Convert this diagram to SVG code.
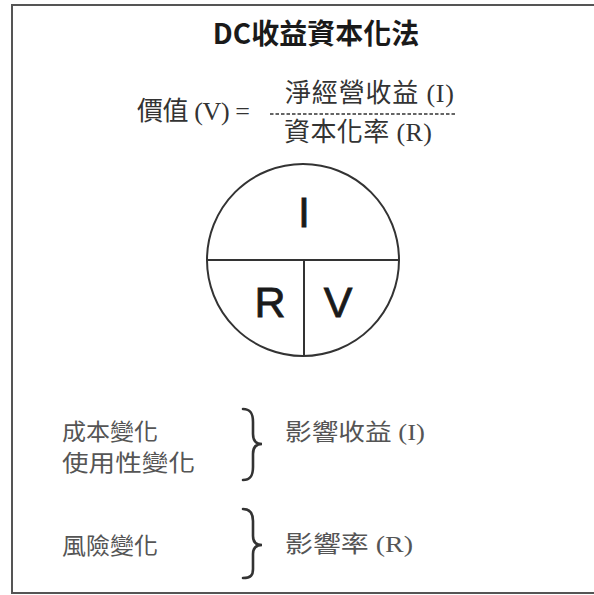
<svg xmlns="http://www.w3.org/2000/svg" width="594" height="595" viewBox="0 0 594 595">
<style>
.title{font-family:"Noto Sans CJK TC","Liberation Sans",sans-serif;font-weight:bold;font-size:28px;fill:#1a1a1a}
.f{font-family:"Liberation Serif","Noto Sans CJK TC",serif;font-size:26px;fill:#333}
.b{font-family:"Liberation Serif","Noto Sans CJK TC",serif;font-size:23px;fill:#555}
.big{font-family:"Liberation Sans",sans-serif;font-size:43px;fill:#1a1a1a;stroke:#1a1a1a;stroke-width:0.8;text-anchor:middle}
.ln{stroke:#333;stroke-width:2;fill:none}
.brace{stroke:#333;stroke-width:2.6;fill:none;stroke-linecap:round}
</style>
<rect x="12" y="5" width="600" height="588" fill="#fff" stroke="#555" stroke-width="2"/>
<g id="title"><text class="title" x="316" y="44" text-anchor="middle">DC收益資本化法</text></g>
<g id="formula">
<text class="f" x="137" y="120" font-size="25" textLength="113">價值 (V) =</text>
<text class="f" x="285" y="102" textLength="169">淨經營收益 (I)</text>
<line x1="270" y1="114" x2="456" y2="114" stroke="#333" stroke-width="1.6" stroke-dasharray="3.5,2"/>
<text class="f" x="284" y="141" textLength="148">資本化率 (R)</text>
</g>
<g id="circle">
<circle class="ln" cx="303" cy="260" r="96"/>
<line class="ln" x1="207" y1="260" x2="399" y2="260"/>
<line class="ln" x1="304" y1="260" x2="304" y2="356"/>
<text class="big" x="304" y="227">I</text>
<text class="big" x="270" y="317">R</text>
<text class="big" x="338" y="317">V</text>
</g>
<g id="group1">
<text class="b" x="62" y="440" textLength="96" lengthAdjust="spacingAndGlyphs">成本變化</text>
<text class="b" x="62" y="471" textLength="133" lengthAdjust="spacingAndGlyphs">使用性變化</text>
<path class="brace" d="M243,409 C251,409 253,414 253,422 L253,434 C253,441 256,444 262,444 C256,444 253,447 253,454 L253,467 C253,475 251,480 243,480"/>
<text class="b" x="285" y="440" textLength="140" lengthAdjust="spacingAndGlyphs">影響收益 (I)</text>
</g>
<g id="group2">
<text class="b" x="62" y="554" textLength="96" lengthAdjust="spacingAndGlyphs">風險變化</text>
<path class="brace" d="M243,509 C251,509 253,514 253,521 L253,536 C253,542 256,545 262,545 C256,545 253,548 253,554 L253,569 C253,575 251,578 243,578"/>
<text class="b" x="285" y="552" textLength="128" lengthAdjust="spacingAndGlyphs">影響率 (R)</text>
</g>
</svg>
